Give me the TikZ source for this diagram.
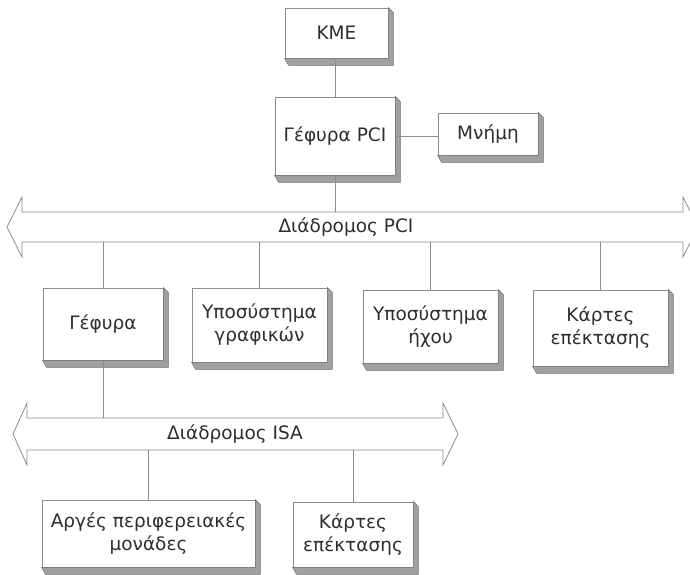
\documentclass[tikz,border=0pt]{standalone}
\usepackage{fontspec}
\setmainfont{DejaVu Sans}
\usetikzlibrary{calc}
\definecolor{linegray}{HTML}{8C8C8C}
\definecolor{shadowgray}{HTML}{A0A0A0}
\definecolor{shadowedge}{HTML}{707070}
\definecolor{textgray}{HTML}{2E2E2E}
\tikzset{
  boxnode/.style={draw=linegray, fill=white, text=textgray, inner sep=0pt, align=center,
    line width=0.8pt, font=\fontsize{18.5}{23}\selectfont},
  conn/.style={draw=linegray, line width=0.8pt},
  bus/.style={draw=linegray, fill=white, line width=0.8pt, line join=miter},
  buslabel/.style={text=textgray, inner sep=0pt, font=\fontsize{18.5}{23}\selectfont}
}
\newcommand\boxshadow[1]{%
  \fill[shadowgray, draw=shadowedge, line width=0.5pt] (#1.north east) -- ++(5,5) -- ($(#1.south east)+(5,7)$) -- ($(#1.south west)+(4,7)$) -- (#1.south west) -- (#1.south east) -- cycle;}
\begin{document}
\begin{tikzpicture}[x=1pt,y=-1pt]
\clip (0,0) rectangle (690,574);
\fill[white] (0,0) rectangle (690,574);

% PCI bus
\draw[bus] (7,227) -- (22,197) -- (22,212) -- (683,212) -- (683,197) -- (698,227) -- (683,257) -- (683,242) -- (22,242) -- (22,257) -- cycle;
\node[buslabel] (pcilabel) at (346,227) {Διάδρομος PCI};
\coordinate (pcitop) at (345,212);
\coordinate (pcibot) at (345,242);

% ISA bus
\draw[bus] (13,434) -- (27,403) -- (27,418) -- (443,418) -- (443,403) -- (458,434) -- (443,465) -- (443,450) -- (27,450) -- (27,465) -- cycle;
\node[buslabel] (isalabel) at (235,434) {Διάδρομος ISA};
\coordinate (isatop) at (235,418);
\coordinate (isabot) at (235,450);

% boxes
\node[boxnode, minimum width=103, minimum height=50] (kme) at (336.5,33) {KME};
\node[boxnode, minimum width=120, minimum height=78] (pcib) at (335,136) {Γέφυρα PCI};
\node[boxnode, minimum width=100, minimum height=42] (mem) at (488,134) {Μνήμη};
\node[boxnode, minimum width=120, minimum height=72] (bridge) at (103,324) {Γέφυρα};
\node[boxnode, minimum width=135, minimum height=74] (gfx) at (259.5,325) {Υποσύστημα\\γραφικών};
\node[boxnode, minimum width=135, minimum height=73] (snd) at (430.5,326.5) {Υποσύστημα\\ήχου};
\node[boxnode, minimum width=135, minimum height=76] (cards) at (600.5,328) {Κάρτες\\επέκτασης};
\node[boxnode, minimum width=213, minimum height=67] (slow) at (148.5,533.5) {Αργές περιφερειακές\\μονάδες};
\node[boxnode, minimum width=120, minimum height=65] (cards2) at (353,534.5) {Κάρτες\\επέκτασης};

\foreach \n in {kme,pcib,mem,bridge,gfx,snd,cards,slow,cards2} {\boxshadow{\n}}

% connectors
\draw[conn] (pcib.north) -- (pcib.north |- kme.south);
\draw[conn] (pcib.east) -- (mem.west |- pcib.east);
\draw[conn] (pcib.south) -- (pcib.south |- pcitop);
\draw[conn] (bridge.north) -- (bridge.north |- pcibot);
\draw[conn] (gfx.north) -- (gfx.north |- pcibot);
\draw[conn] (snd.north) -- (snd.north |- pcibot);
\draw[conn] (cards.north) -- (cards.north |- pcibot);
\draw[conn] (bridge.south) -- (bridge.south |- isatop);
\draw[conn] (slow.north) -- (slow.north |- isabot);
\draw[conn] (cards2.north) -- (cards2.north |- isabot);
\end{tikzpicture}
\end{document}
